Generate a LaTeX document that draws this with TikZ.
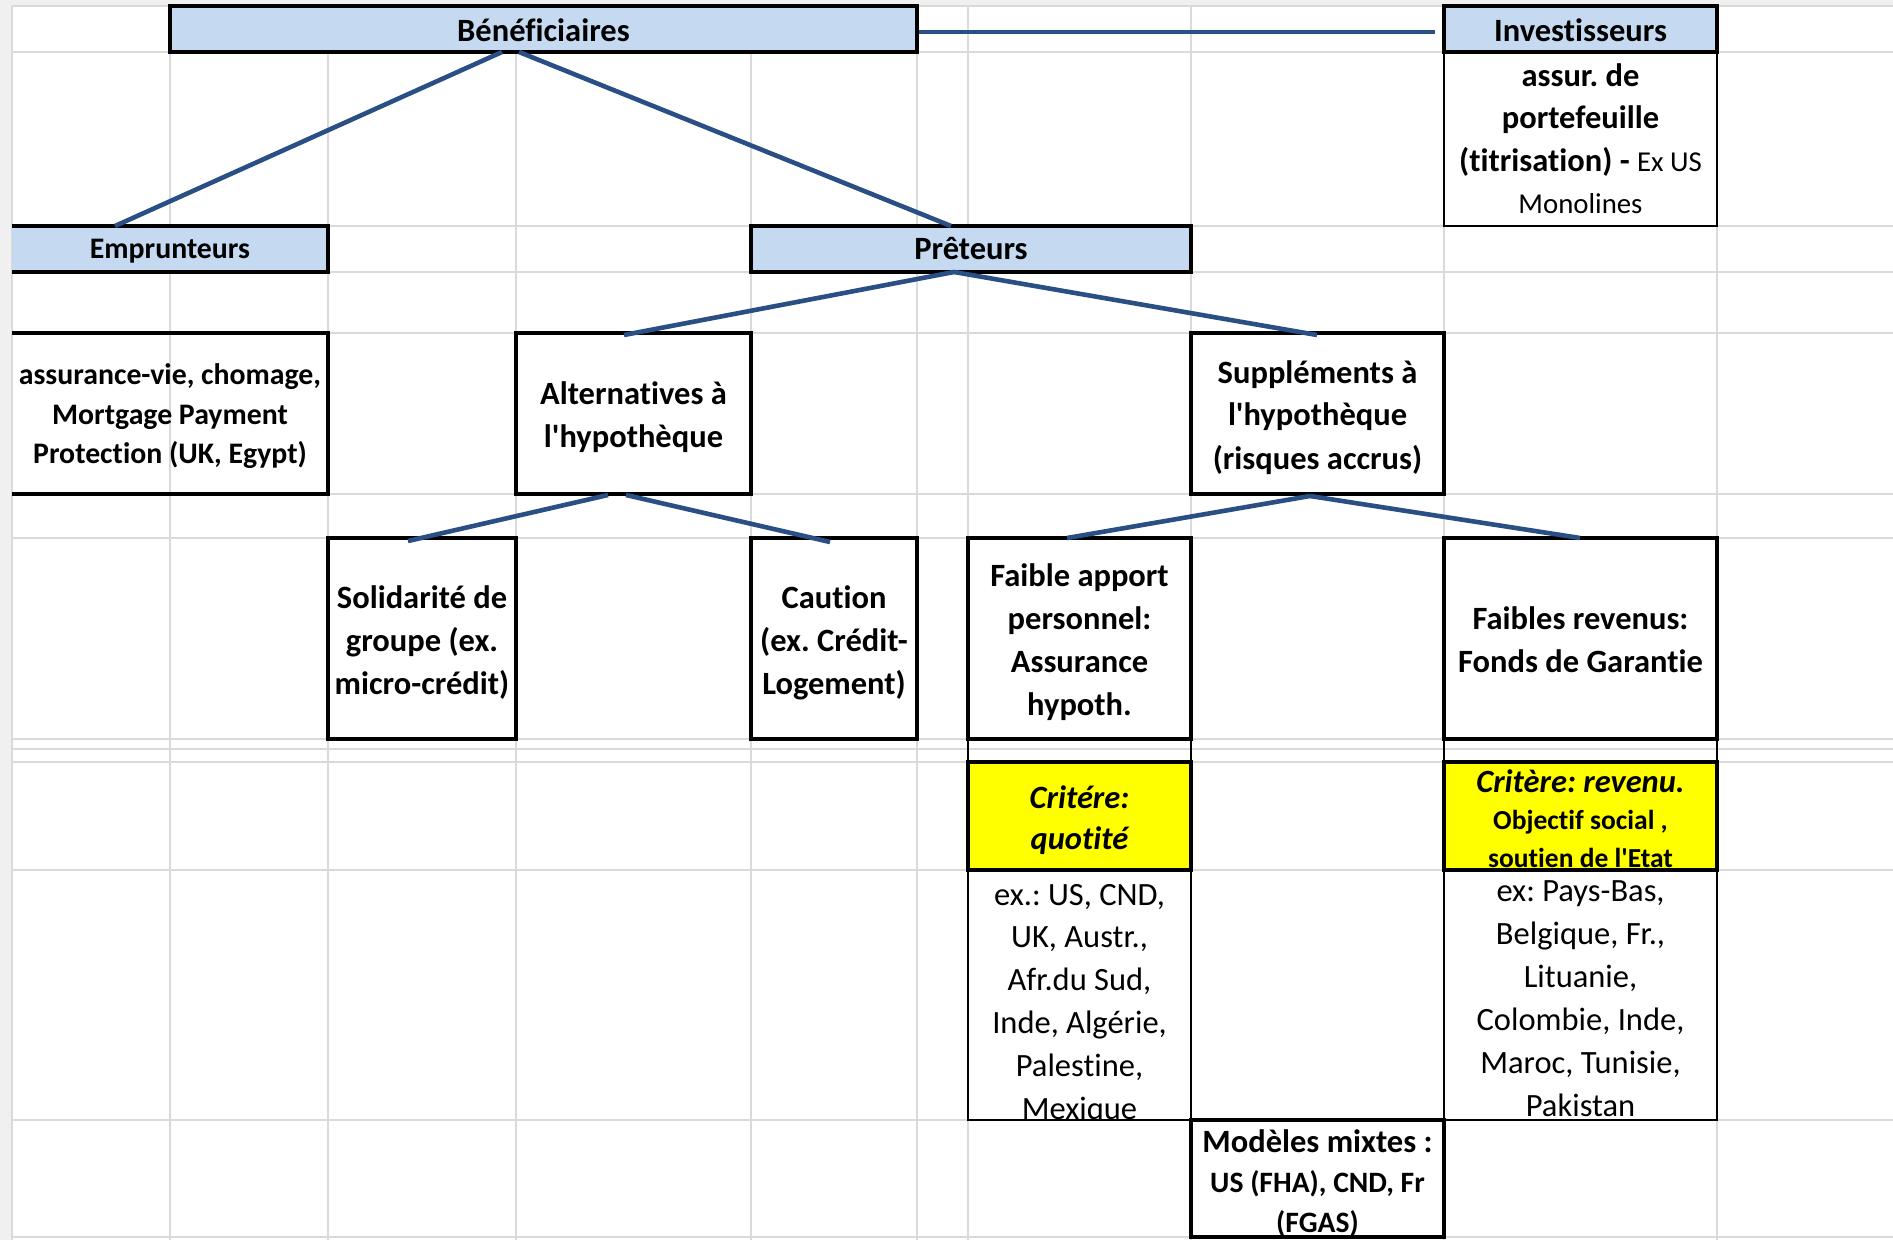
\documentclass[tikz,border=0pt]{standalone}
\usepackage{fontspec}
\setmainfont{Carlito}[Ligatures={TeXOff,NoCommon}]
\usetikzlibrary{fit,calc}
\frenchspacing
\definecolor{hdrblue}{RGB}{197,217,241}
\definecolor{conncol}{RGB}{41,79,133}
\definecolor{gridcol}{RGB}{218,218,218}
\definecolor{headgray}{RGB}{240,240,240}
\definecolor{crityellow}{RGB}{255,255,0}
\newcommand\fbXII{\fontsize{16.25}{21.5}\selectfont\bfseries}
\newcommand\fbXI{\fontsize{14.9}{19.75}\selectfont\bfseries}
\newcommand\frXII{\fontsize{16.25}{21.4}\selectfont}
\tikzset{
  box/.style={draw=black, line width=1.8pt, inner sep=0pt, outer sep=0pt},
  thinbox/.style={draw=black, line width=1pt, inner sep=0pt, outer sep=0pt},
  openbox/.style={inner sep=0pt, outer sep=0pt},
  hdr/.style={box, fill=hdrblue},
  crit/.style={box, fill=crityellow},
  txt/.style={inner sep=0pt, outer sep=0pt, align=center, anchor=base},
  conn/.style={draw=conncol, line width=2.3pt},
  gridline/.style={draw=gridcol, line width=1pt},
  boxline/.style={draw=black, line width=1.8pt},
  thinline/.style={draw=black, line width=1pt}
}
\begin{document}
\begin{tikzpicture}[x=0.5pt,y=-0.5pt]
\useasboundingbox (0,0) rectangle (1893,1240);
\fill[white] (0,0) rectangle (1893,1240);
\fill[headgray] (0,0) rectangle (1893,6);
\fill[headgray] (0,0) rectangle (12,1240);
\foreach \gx in {12,170,328,516,751,917,968,1191,1444,1717}
  \draw[gridline] (\gx,6) -- (\gx,1240);
\foreach \gy in {6,52,226,272,333,494,538,739,749,762,870,1120,1237}
  \draw[gridline] (12,\gy) -- (1893,\gy);

% ---- boxes
\node[hdr, fit={(170,6)(917,52)}] (benef) {};
\node[hdr, fit={(1444,6)(1717,52)}] (inv) {};
\node[thinbox, fit={(1444,52)(1717,226)}] (invd) {};
\node[openbox, fill=hdrblue, fit={(12,226)(328,272)}] (empr) {};
\draw[boxline] (empr.north west) -- (empr.north east) -- (empr.south east) -- (empr.south west);
\node[hdr, fit={(751,226)(1191,272)}] (pret) {};
\node[openbox, fit={(12,333)(328,494)}] (assv) {};
\draw[boxline] (assv.north west) -- (assv.north east) -- (assv.south east) -- (assv.south west);
\node[box, fit={(516,333)(751,494)}] (alt) {};
\node[box, fit={(1191,333)(1444,494)}] (supp) {};
\node[box, fit={(328,538)(516,739)}] (sol) {};
\node[box, fit={(751,538)(917,739)}] (cau) {};
\node[box, fit={(968,538)(1191,739)}] (fa) {};
\node[box, fit={(1444,538)(1717,739)}] (fr) {};
\node[crit, fit={(968,762)(1191,870)}] (critq) {};
\node[crit, fit={(1444,762)(1717,870)}] (critr) {};
\node[thinbox, fit={(968,870)(1191,1120)}] (exq) {};
\node[thinbox, fit={(1444,870)(1717,1120)}] (exr) {};
\node[box, fit={(1191,1120)(1444,1237)}] (mix) {};

% ---- texts (anchored at the baseline of the last line)
\node[txt, font=\fbXII] (benefT) at ($(benef.north)+(0,36)$) {Bénéficiaires};
\node[txt, font=\fbXII] (invT) at ($(inv.north)+(0,36)$) {Investisseurs};
\node[txt, font=\fontsize{16.25}{21.25}\selectfont\bfseries] (invdT) at ($(invd.north)+(0,162)$)
  {assur. de\\portefeuille\\(titrisation) - {\mdseries\fontsize{14.4}{20}\selectfont Ex US}\\{\mdseries\fontsize{14.4}{20}\selectfont Monolines}};
\node[txt, font=\fbXI] (emprT) at ($(empr.north)+(0,33)$) {Emprunteurs};
\node[txt, font=\fbXII] (pretT) at ($(pret.north)+(0,34)$) {Prêteurs};
\node[txt, font=\fbXI] (assvT) at ($(assv.north)+(0,131)$) {assurance-vie, chomage,\\Mortgage Payment\\Protection (UK, Egypt)};
\node[txt, font=\fbXII] (altT) at ($(alt.north)+(0,115)$) {Alternatives à\\l'hypothèque};
\node[txt, font=\fbXII] (suppT) at ($(supp.north)+(0,136)$) {Suppléments à\\l'hypothèque\\(risques accrus)};
\node[txt, font=\fbXII] (solT) at ($(sol.north)+(0,156)$) {Solidarité de\\groupe (ex.\\micro-crédit)};
\node[txt, font=\fbXII] (cauT) at ($(cau.north)+(0,156)$) {Caution\\(ex. Crédit-\\Logement)};
\node[txt, font=\fbXII] (faT) at ($(fa.north)+(0,177)$) {Faible apport\\personnel:\\Assurance\\hypoth.};
\node[txt, font=\fbXII] (frT) at ($(fr.north)+(0,134)$) {Faibles revenus:\\Fonds de Garantie};
\node[txt, font=\fontsize{16.25}{20.5}\selectfont\bfseries\itshape] (critqT) at ($(critq.north)+(0,87)$) {Critére:\\quotité};
\node[txt, font=\fontsize{16.25}{18.75}\selectfont\bfseries] (critrT) at ($(critr.north)+(0,105)$)
  {\itshape Critère: revenu.\\{\fontsize{13.75}{18.75}\selectfont Objectif social ,}\\{\fontsize{13.75}{18.75}\selectfont soutien de l'Etat}};
\begin{scope}
  \clip (exq.north west) rectangle (exq.south east);
  \node[txt, font=\frXII] (exqT) at ($(exq.north)+(0,249)$)
    {ex.: US, CND,\\UK, Austr.,\\Afr.du Sud,\\Inde, Algérie,\\Palestine,\\Mexique};
\end{scope}
\node[txt, font=\fontsize{16.25}{21.5}\selectfont] (exrT) at ($(exr.north)+(0,246)$)
  {ex: Pays-Bas,\\Belgique, Fr.,\\Lituanie,\\Colombie, Inde,\\Maroc, Tunisie,\\Pakistan};
\begin{scope}
  \clip (mix.north west) rectangle (mix.south east);
  \node[txt, font=\fontsize{16.25}{20}\selectfont\bfseries] (mixT) at ($(mix.north)+(0,112)$)
    {Modèles mixtes :\\{\fontsize{14.8}{20}\selectfont US (FHA), CND, Fr}\\{\fontsize{14.8}{20}\selectfont (FGAS)}};
\end{scope}
% redraw borders over overflowing text
\draw[box, fill=none] (critr.north west) rectangle (critr.south east);
\draw[box, fill=none] (mix.north west) rectangle (mix.south east);

% thin cell borders between rows
\draw[thinline] (fa.south west) -- (critq.north west);
\draw[thinline] (fa.south east) -- (critq.north east);
\draw[thinline] (fr.south west) -- (critr.north west);
\draw[thinline] (fr.south east) -- (critr.north east);

% connectors
\draw[conn] ($(benef.east)+(2,3)$) -- ($(inv.west)+(-9,3)$);
\draw[conn] ($(benef.south west)+(332,0)$) -- ($(empr.north west)+(103,0)$);
\draw[conn] ($(benef.south west)+(349,0)$) -- ($(pret.north west)+(200,0)$);
\draw[conn] ($(pret.south west)+(203,0)$) -- ($(alt.north west)+(108,2)$);
\draw[conn] ($(pret.south west)+(203,0)$) -- ($(supp.north west)+(126,2)$);
\draw[conn] ($(alt.south west)+(92,1)$) -- ($(sol.north west)+(80,3)$);
\draw[conn] ($(alt.south west)+(110,1)$) -- ($(cau.north west)+(79,4)$);
\draw[conn] ($(supp.south west)+(119,2)$) -- ($(fa.north west)+(99,0)$);
\draw[conn] ($(supp.south west)+(119,2)$) -- ($(fr.north west)+(136,0)$);
\end{tikzpicture}
\end{document}
